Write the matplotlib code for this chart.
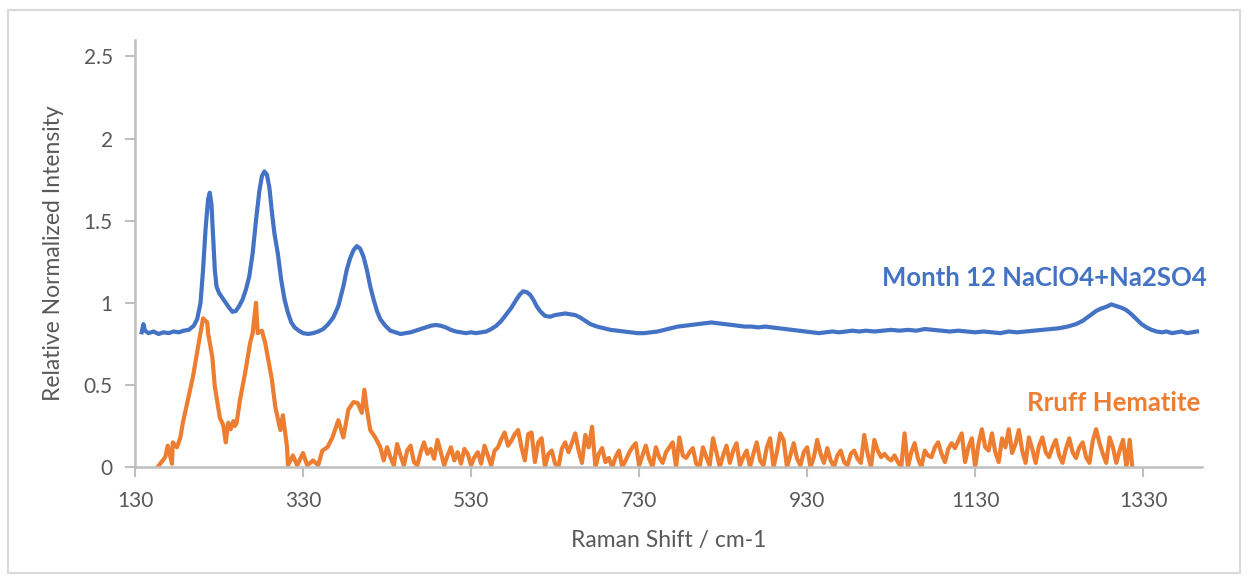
import matplotlib
matplotlib.use("Agg")
import matplotlib.pyplot as plt
from matplotlib.patches import Rectangle

plt.rcParams['font.family'] = ['Lato', 'DejaVu Sans']

# Month 12 NaClO4+Na2SO4 spectrum
blue_x = [138, 140, 142, 146, 152, 158, 164, 170, 176, 182, 188, 194, 200, 204, 208, 211, 214, 217, 219, 221,
          223, 225, 227, 230, 234, 238, 242, 246, 250, 254, 258, 262, 266, 270, 274, 278, 281, 284, 287, 290,
          293, 296, 300, 304, 308, 312, 316, 320, 325, 330, 336, 342, 348, 354, 360, 366, 372, 378, 382, 386,
          390, 394, 398, 402, 406, 410, 414, 418, 422, 428, 434, 440, 446, 452, 458, 464, 470, 476, 482, 488,
          494, 500, 506, 512, 518, 524, 530, 536, 542, 548, 554, 560, 566, 572, 578, 584, 588, 592, 596, 600,
          604, 608, 612, 618, 624, 630, 636, 642, 648, 654, 660, 666, 672, 680, 688, 696, 704, 712, 720, 728,
          736, 744, 752, 760, 768, 776, 784, 792, 800, 808, 816, 824, 832, 840, 848, 856, 864, 872, 880, 888,
          896, 904, 912, 920, 928, 936, 944, 952, 960, 968, 976, 984, 992, 1000, 1010, 1020, 1030, 1040, 1050, 1060,
          1070, 1080, 1090, 1100, 1110, 1120, 1130, 1140, 1150, 1160, 1170, 1180, 1190, 1200, 1210, 1220, 1230, 1240, 1250, 1258,
          1266, 1274, 1280, 1286, 1292, 1298, 1304, 1310, 1316, 1322, 1328, 1334, 1340, 1346, 1352, 1358, 1364, 1370, 1376, 1382,
          1388, 1394]
blue_y = [0.82, 0.87, 0.83, 0.815, 0.825, 0.81, 0.82, 0.815, 0.825, 0.82, 0.83, 0.835, 0.86, 0.9, 1.0, 1.2, 1.45, 1.63, 1.67, 1.6,
          1.4, 1.2, 1.1, 1.06, 1.03, 1.0, 0.97, 0.945, 0.95, 0.98, 1.02, 1.08, 1.16, 1.3, 1.5, 1.68, 1.77, 1.80, 1.78, 1.7,
          1.55, 1.42, 1.3, 1.14, 1.02, 0.94, 0.88, 0.85, 0.83, 0.815, 0.81, 0.815, 0.825, 0.84, 0.87, 0.91, 0.98, 1.1, 1.2, 1.27,
          1.32, 1.345, 1.33, 1.28, 1.2, 1.1, 1.02, 0.95, 0.9, 0.86, 0.83, 0.82, 0.81, 0.815, 0.82, 0.83, 0.84, 0.85, 0.86, 0.865,
          0.86, 0.85, 0.835, 0.825, 0.82, 0.815, 0.82, 0.815, 0.82, 0.825, 0.84, 0.86, 0.89, 0.93, 0.97, 1.02, 1.05, 1.07, 1.065, 1.05,
          1.02, 0.98, 0.95, 0.92, 0.915, 0.925, 0.93, 0.935, 0.93, 0.925, 0.91, 0.89, 0.87, 0.855, 0.845, 0.835, 0.83, 0.825, 0.82, 0.815,
          0.815, 0.82, 0.825, 0.835, 0.845, 0.855, 0.86, 0.865, 0.87, 0.875, 0.88, 0.875, 0.87, 0.865, 0.86, 0.855, 0.855, 0.85, 0.855, 0.85,
          0.845, 0.84, 0.835, 0.83, 0.825, 0.82, 0.815, 0.82, 0.825, 0.82, 0.825, 0.83, 0.825, 0.83, 0.825, 0.83, 0.835, 0.83, 0.835, 0.83,
          0.84, 0.835, 0.83, 0.825, 0.83, 0.825, 0.82, 0.825, 0.82, 0.815, 0.825, 0.82, 0.825, 0.83, 0.835, 0.84, 0.845, 0.855, 0.87, 0.89,
          0.92, 0.95, 0.965, 0.975, 0.99, 0.98, 0.97, 0.955, 0.93, 0.9, 0.87, 0.85, 0.835, 0.825, 0.82, 0.825, 0.815, 0.82, 0.825, 0.815,
          0.82, 0.825]

# RRUFF hematite reference spectrum: peak region, then the noisy tail on a 4 cm-1 grid
orange_x_peaks = [157, 166, 169, 174, 175, 180, 184, 187, 193, 199, 205, 210, 211, 216, 217, 222, 225, 231, 235, 238,
                  241, 244, 247, 249, 251, 255, 261, 267, 270, 274, 276, 281, 285, 288, 293, 297, 303, 306, 311, 312,
                  318, 323, 330, 335, 342, 348, 353, 359, 365, 372, 378, 384, 390, 395, 400, 403, 406, 410, 416, 422]
orange_y_peaks = [0.0, 0.06, 0.13, 0.02, 0.15, 0.12, 0.18, 0.27, 0.41, 0.55, 0.73, 0.875, 0.905, 0.88, 0.815, 0.67, 0.49, 0.30, 0.255, 0.15,
                  0.27, 0.23, 0.28, 0.25, 0.27, 0.41, 0.57, 0.755, 0.815, 1.0, 0.815, 0.83, 0.755, 0.67, 0.53, 0.365, 0.225, 0.315, 0.12, 0.01,
                  0.07, 0.01, 0.085, 0.01, 0.04, 0.01, 0.10, 0.12, 0.18, 0.285, 0.18, 0.35, 0.395, 0.39, 0.33, 0.47, 0.35, 0.225, 0.18, 0.12]
orange_x_tail = list(range(426, 1315, 4)) + [1317]
orange_y_tail = [
    0.04, 0.12, 0.06, 0.01, 0.14, 0.07, 0.01, 0.10, 0.13, 0.03,
    0.01, 0.09, 0.15, 0.08, 0.11, 0.05, 0.165, 0.09, 0.01, 0.07,
    0.12, 0.04, 0.09, 0.02, 0.11, 0.08, 0.01, 0.06, 0.09, 0.02,
    0.13, 0.07, 0.01, 0.10, 0.12, 0.17, 0.21, 0.13, 0.16, 0.20,
    0.225, 0.12, 0.04, 0.20, 0.21, 0.03, 0.15, 0.175, 0.0, 0.08,
    0.10, 0.02, 0.0, 0.11, 0.15, 0.09, 0.145, 0.205, 0.10, 0.025,
    0.195, 0.12, 0.245, 0.0, 0.08, 0.115, 0.03, 0.055, 0.0, 0.06,
    0.10, 0.0, 0.04, 0.085, 0.12, 0.145, 0.01, 0.07, 0.13, 0.05,
    0.0, 0.12, 0.06, 0.025, 0.09, 0.12, 0.15, 0.0, 0.18, 0.07,
    0.055, 0.09, 0.115, 0.02, 0.0, 0.12, 0.06, 0.01, 0.175, 0.09,
    0.0, 0.07, 0.13, 0.025, 0.10, 0.145, 0.01, 0.06, 0.10, 0.0,
    0.08, 0.15, 0.04, 0.01, 0.12, 0.175, 0.0, 0.09, 0.205, 0.165,
    0.0, 0.07, 0.145, 0.05, 0.01, 0.09, 0.12, 0.0, 0.06, 0.165,
    0.08, 0.025, 0.115, 0.04, 0.0, 0.07, 0.10, 0.03, 0.01, 0.08,
    0.10, 0.05, 0.025, 0.195, 0.08, 0.0, 0.165, 0.10, 0.06, 0.08,
    0.055, 0.04, 0.07, 0.03, 0.0, 0.205, 0.0, 0.09, 0.145, 0.05,
    0.0, 0.10, 0.07, 0.06, 0.12, 0.15, 0.08, 0.03, 0.11, 0.145,
    0.115, 0.16, 0.205, 0.03, 0.12, 0.175, 0.0, 0.14, 0.23, 0.12,
    0.10, 0.205, 0.09, 0.03, 0.175, 0.12, 0.23, 0.085, 0.14, 0.225,
    0.10, 0.025, 0.18, 0.11, 0.025, 0.13, 0.18, 0.09, 0.06, 0.12,
    0.165, 0.07, 0.025, 0.11, 0.175, 0.09, 0.055, 0.12, 0.15, 0.06,
    0.025, 0.16, 0.23, 0.145, 0.08, 0.025, 0.18, 0.12, 0.025, 0.10,
    0.165, 0.0, 0.165, 0.0]
orange_x = orange_x_peaks + orange_x_tail
orange_y = orange_y_peaks + orange_y_tail

x_ticks = [130, 330, 530, 730, 930, 1130, 1330]
y_ticks = [0, 0.5, 1, 1.5, 2, 2.5]
blue_label = "Month 12 NaClO4+Na2SO4"
orange_label = "Rruff Hematite"

BLUE = '#4472C4'
ORANGE = '#ED7D31'
GREY = '#595959'

fig = plt.figure(figsize=(12.48, 5.81), dpi=100)
ax = fig.add_axes([135 / 1248, 1 - 467 / 581, (1202 - 135) / 1248, (467 - 40) / 581])

ax.plot(blue_x, blue_y, color=BLUE, lw=3.0, solid_joinstyle='round')
ax.plot(orange_x, orange_y, color=ORANGE, lw=3.0, solid_joinstyle='round')

ax.set_xlim(130, 1400)
ax.set_ylim(0, 2.6)
ax.set_xticks(x_ticks)
ax.set_xticklabels([str(t) for t in x_ticks])
ax.set_yticks(y_ticks)
ax.set_yticklabels(['0', '0.5', '1', '1.5', '2', '2.5'])

for side in ['top', 'right']:
    ax.spines[side].set_visible(False)
for side in ['left', 'bottom']:
    ax.spines[side].set_color('#bfbfbf')
    ax.spines[side].set_linewidth(1.8)
ax.tick_params(axis='both', colors='#bfbfbf', labelcolor=GREY, labelsize=15,
               length=7, width=1.5, direction='out')
ax.tick_params(axis='x', pad=10)
ax.tick_params(axis='y', pad=9)

ax.set_xlabel('Raman Shift / cm-1', fontsize=16.5, color=GREY, labelpad=14)
ax.set_ylabel('Relative Normalized Intensity', fontsize=16.5, color=GREY, labelpad=14)

ax.text(1406, 1.15, blue_label, color=BLUE, fontsize=18.5, fontweight='bold',
        ha='right', va='center', clip_on=False)
ax.text(1398, 0.39, orange_label, color=ORANGE, fontsize=18.5, fontweight='bold',
        ha='right', va='center', clip_on=False)

fig.patches.append(Rectangle((8 / 1248, 8 / 581), 1232 / 1248, 563 / 581, transform=fig.transFigure,
                             fill=False, edgecolor='#d9d9d9', lw=1.5))

fig.savefig('out.png', dpi=100)
